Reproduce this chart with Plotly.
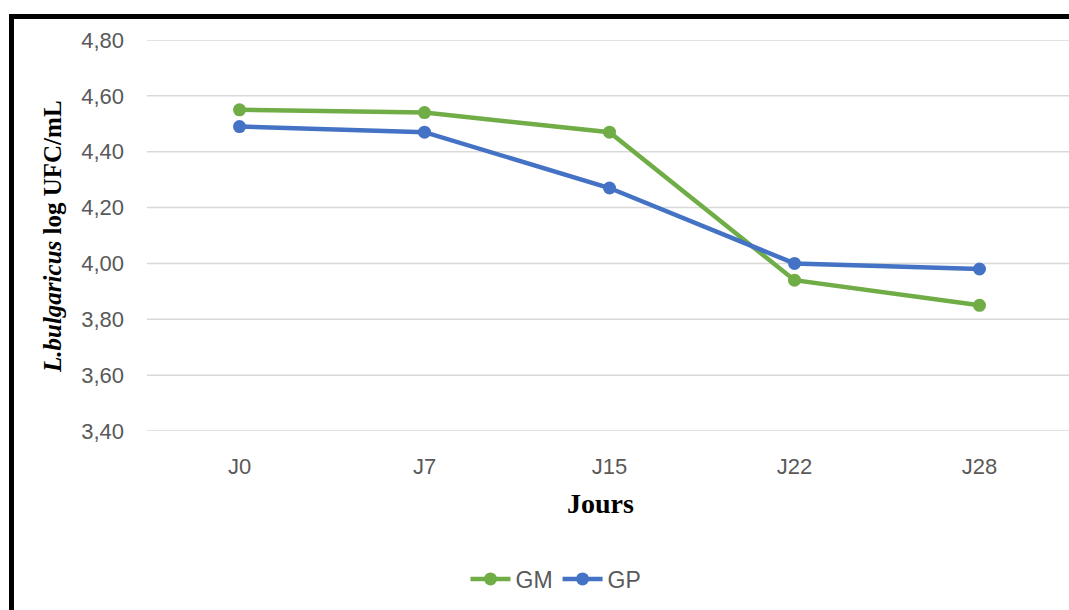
import plotly.graph_objects as go

days = ["J0", "J7", "J15", "J22", "J28"]
gm_values = [4.55, 4.54, 4.47, 3.94, 3.85]
gp_values = [4.49, 4.47, 4.27, 4.00, 3.98]
y_ticks = [3.40, 3.60, 3.80, 4.00, 4.20, 4.40, 4.60, 4.80]

W, H = 1090, 610
L, R, T, B = 147, 0, 40, 179
pw, ph = W - L - R, H - T - B
step = 185.0

def px(x):
    return (x - L) / pw

def py(y):
    return (H - B - y) / ph

fig = go.Figure()
fig.add_trace(go.Scatter(x=days, y=gm_values, name="GM", mode="lines+markers",
                         line=dict(color="#70ad47", width=4.5),
                         marker=dict(color="#70ad47", size=13)))
fig.add_trace(go.Scatter(x=days, y=gp_values, name="GP", mode="lines+markers",
                         line=dict(color="#4472c4", width=4.5),
                         marker=dict(color="#4472c4", size=13)))

grid_shapes = [
    dict(type="line", xref="paper", yref="y", x0=0, x1=1.2, y0=v, y1=v,
         layer="below", line=dict(color="#d9d9d9", width=1.5))
    for v in y_ticks
]

fig.update_layout(
    width=W, height=H,
    margin=dict(l=L, r=R, t=T, b=B, pad=0),
    paper_bgcolor="white", plot_bgcolor="white",
    separators=", ",
    showlegend=True,
    legend=dict(orientation="h", x=px(556), y=py(579), xanchor="center", yanchor="middle",
                font=dict(family="Liberation Sans", size=23, color="#595959"),
                itemwidth=40, tracegroupgap=0),
    xaxis=dict(range=[-0.5, -0.5 + pw / step], showgrid=False, showline=False, ticks="",
               tickfont=dict(family="Liberation Sans", size=22, color="#595959"),
               ticklabelstandoff=20),
    yaxis=dict(range=[3.40, 4.80], tickvals=y_ticks, tickformat=".2f",
               showgrid=False, zeroline=False, showline=False, ticks="",
               tickfont=dict(family="Liberation Sans", size=22, color="#595959"),
               ticklabelstandoff=22),
    annotations=[
        dict(text="<b>Jours</b>", xref="paper", yref="paper", x=px(600), y=py(503),
             showarrow=False, xanchor="center", yanchor="middle",
             font=dict(family="Liberation Serif", size=28, color="black")),
        dict(text="<b><i>L.bulgaricus</i> log UFC/mL</b>", xref="paper", yref="paper",
             x=px(52), y=py(237), textangle=-90, showarrow=False,
             xanchor="center", yanchor="middle",
             font=dict(family="Liberation Serif", size=25, color="black")),
    ],
    shapes=grid_shapes + [
        dict(type="path", xref="paper", yref="paper",
             path=f"M {px(11.5)},{py(700)} L {px(11.5)},{py(16.5)} L {px(1200)},{py(16.5)}",
             line=dict(color="black", width=5)),
    ],
)

fig.write_html(
    "out.html", config={"displayModeBar": False},
    post_script=("document.body.style.margin='0';"
                 "document.body.style.overflow='hidden';"),
)
